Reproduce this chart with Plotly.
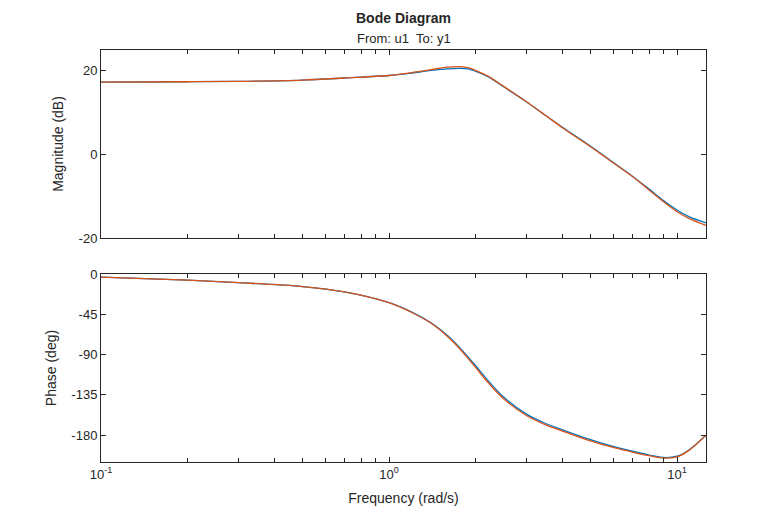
import numpy as np
import plotly.graph_objects as go

# frequencies (rad/s)
freq = [0.1, 0.2, 0.3, 0.5, 0.7, 1.0, 1.2, 1.4, 1.6, 1.76, 1.9, 2.0, 2.2, 2.5,
        3.0, 3.5, 4.0, 5.0, 6.0, 7.0, 8.0, 9.0, 10.0, 11.0, 12.6]

# magnitude (dB)
mag_blue = [17.3, 17.4, 17.5, 17.8, 18.3, 18.9, 19.5, 20.1, 20.5, 20.6, 20.4, 19.9, 18.7, 16.2,
            12.6, 9.3, 6.5, 2.0, -1.9, -5.2, -8.3, -11.1, -13.3, -14.9, -16.4]
mag_orange = [17.3, 17.4, 17.5, 17.8, 18.3, 18.9, 19.6, 20.3, 20.9, 21.0, 20.7, 20.1, 18.8, 16.3,
              12.6, 9.3, 6.4, 1.9, -2.0, -5.3, -8.5, -11.4, -13.7, -15.3, -17.0]

# phase (deg)
phase_blue = [-3.6, -6.8, -9.6, -14.0, -20.0, -32.0, -42.5, -54.5, -69.0, -82.3, -94.3, -102.5, -118.5, -137.5,
              -156.5, -167.0, -174.0, -185.0, -192.5, -198.0, -202.2, -205.0, -203.5, -196.5, -180.0]
phase_orange = [-3.6, -6.8, -9.6, -14.0, -20.0, -32.0, -43.0, -55.0, -70.0, -83.5, -96.0, -104.5, -120.7, -139.4,
                -158.0, -168.5, -175.5, -186.5, -193.8, -199.0, -203.0, -205.7, -204.2, -197.0, -180.0]

major_vals = [0.1, 1, 10]
major_text = ["10<sup>-1</sup>", "10<sup>0</sup>", "10<sup>1</sup>"]
minor_vals = [m * d for d in (0.1, 1, 10) for m in range(2, 10) if m * d < 12.6]

mag_ticks = [-20, 0, 20]
mag_text = ["-20", "0", "20"]
phase_ticks = [0, -45, -90, -135, -180]
phase_text = ["0", "-45", "-90", "-135", "-180"]

BLUE = "#0072BD"
ORANGE = "#D95319"
AX = "#262626"

fig = go.Figure()

for y, col in [(mag_blue, BLUE), (mag_orange, ORANGE)]:
    fig.add_trace(go.Scatter(x=freq, y=y, mode="lines", xaxis="x", yaxis="y",
                             line=dict(color=col, width=1.3, shape="spline", smoothing=0.9),
                             showlegend=False, hoverinfo="skip"))
for y, col in [(phase_blue, BLUE), (phase_orange, ORANGE)]:
    fig.add_trace(go.Scatter(x=freq, y=y, mode="lines", xaxis="x2", yaxis="y2",
                             line=dict(color=col, width=1.3, shape="spline", smoothing=0.9),
                             showlegend=False, hoverinfo="skip"))

xcommon = dict(type="log", range=[-1, 1.1007], showgrid=False, zeroline=False,
               showline=True, mirror="ticks", linecolor=AX, linewidth=1,
               ticks="inside", ticklen=5, tickcolor=AX, tickvals=major_vals,
               minor=dict(ticks="inside", ticklen=4, tickcolor=AX, tickvals=minor_vals),
               tickfont=dict(size=13, color=AX))
ycommon = dict(showgrid=False, zeroline=False, showline=True, mirror="ticks",
               linecolor=AX, linewidth=1, ticks="inside", ticklen=5, tickcolor=AX,
               tickfont=dict(size=13, color=AX))

# page has an 8px body margin, so the figure is 8px smaller on each axis
fig.update_layout(
    width=772, height=512,
    paper_bgcolor="white", plot_bgcolor="white",
    margin=dict(l=93, r=74, t=42, b=58),
    font=dict(family="Liberation Sans, Arial, sans-serif", color=AX),
    xaxis=dict(xcommon, anchor="y", domain=[0, 1], ticktext=["", "", ""]),
    yaxis=dict(ycommon, domain=[0.5437, 1], range=[-20, 25], tickvals=mag_ticks, ticktext=mag_text,
               title=dict(text="Magnitude (dB)", font=dict(size=14, color=AX), standoff=11)),
    xaxis2=dict(xcommon, anchor="y2", domain=[0, 1], ticktext=major_text,
                title=dict(text="Frequency (rad/s)", font=dict(size=14, color=AX), standoff=12)),
    yaxis2=dict(ycommon, domain=[0, 0.4563], range=[-210, 0], tickvals=phase_ticks, ticktext=phase_text,
                title=dict(text="Phase (deg)", font=dict(size=14, color=AX), standoff=11)),
)

fig.add_annotation(text="<b>Bode Diagram</b>", xref="paper", yref="paper", x=0.5, y=1,
                   yanchor="middle", yshift=32, showarrow=False, font=dict(size=14, color=AX))
fig.add_annotation(text="From: u1  To: y1", xref="paper", yref="paper", x=0.5, y=1,
                   yanchor="middle", yshift=12, showarrow=False, font=dict(size=13, color=AX))

fig.write_html("out.html")
